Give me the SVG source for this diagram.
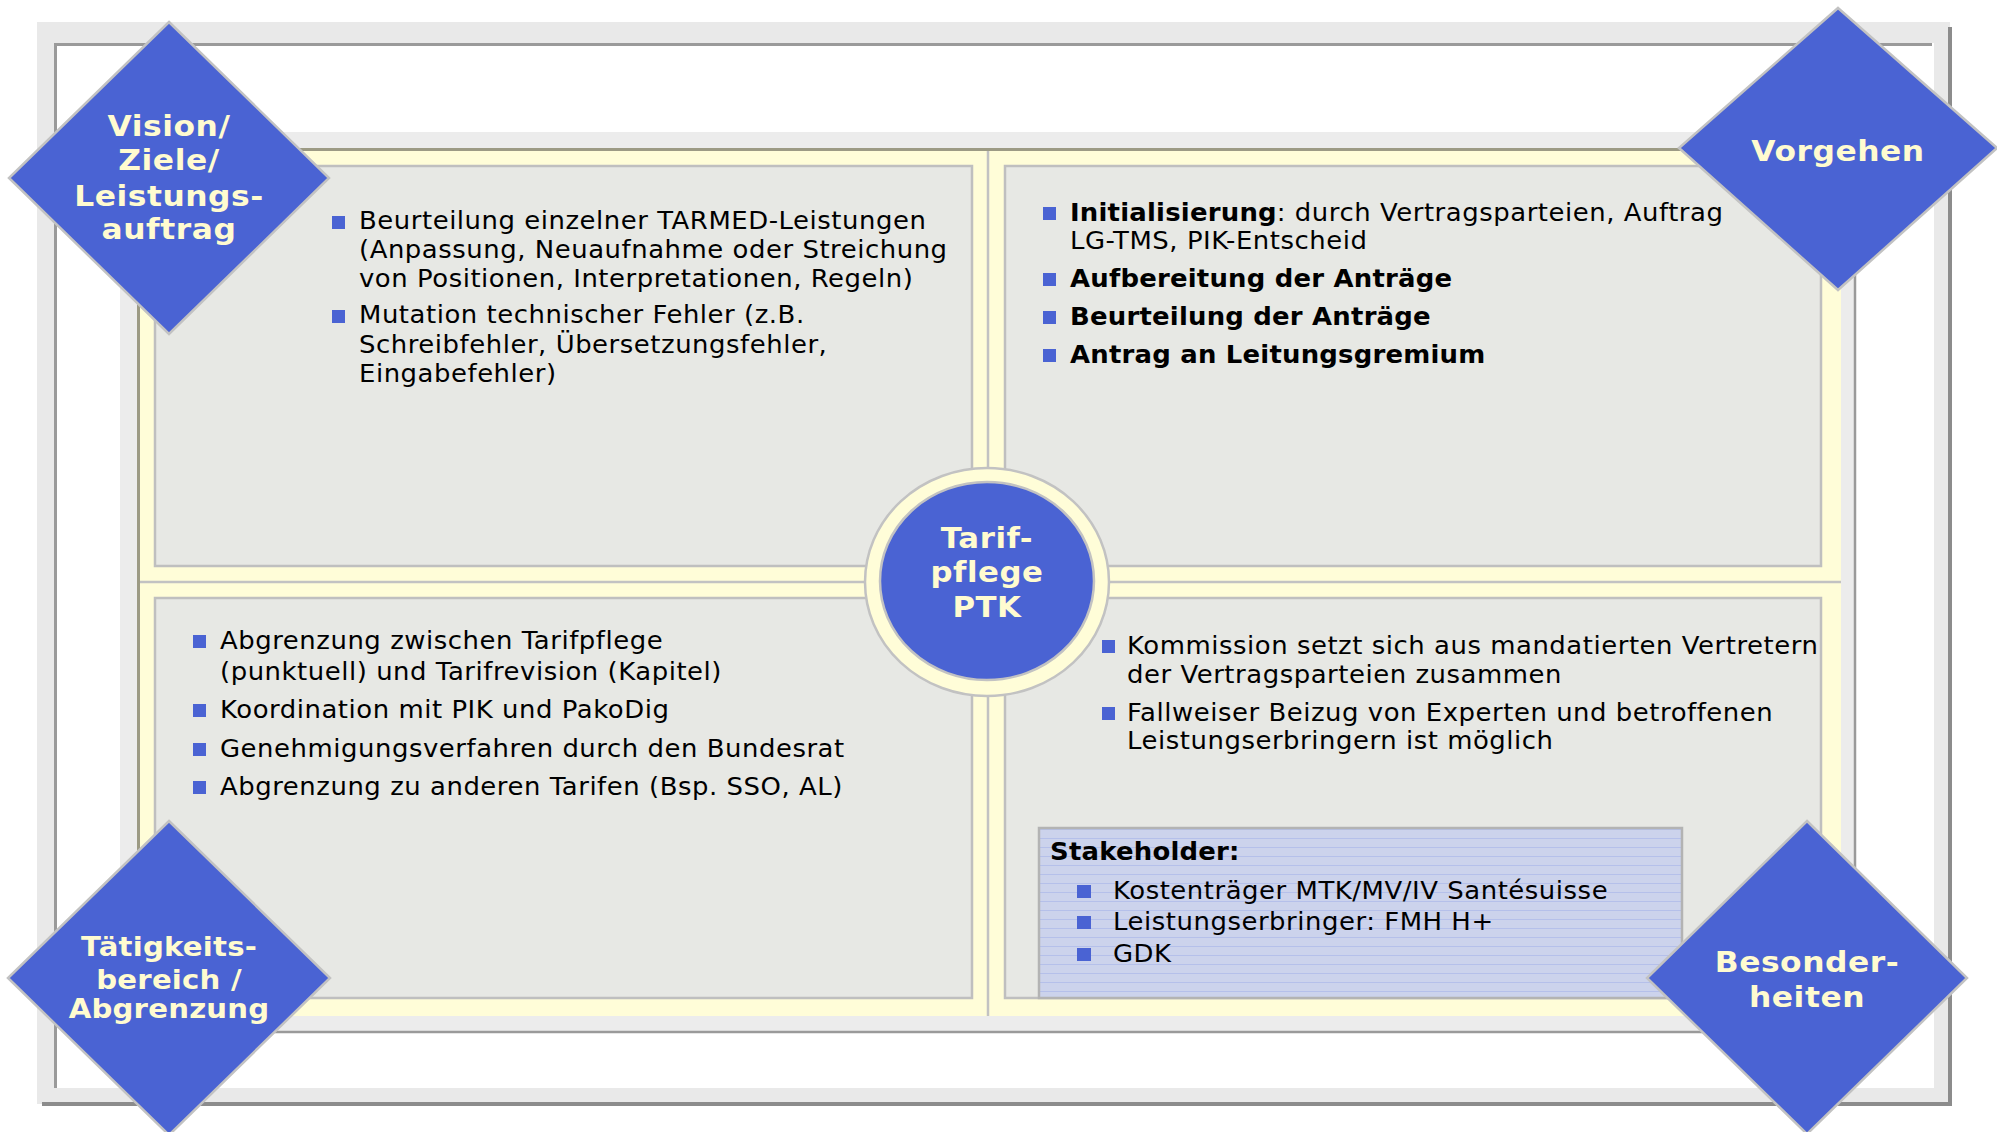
<svg xmlns="http://www.w3.org/2000/svg" width="1997" height="1132" viewBox="0 0 1997 1132">
<defs>
<pattern id="lines" width="12" height="9" patternUnits="userSpaceOnUse" x="0" y="829">
<rect width="12" height="9" fill="#ccd3ec"/>
<line x1="0" y1="0.5" x2="12" y2="0.5" stroke="#b5c0ea" stroke-width="1"/>
</pattern>
</defs>
<style>
.quad{fill:#e7e8e4;stroke:#bfbfbf;stroke-width:2.5}
.dia{fill:#4a63d3;stroke:#c2c2c2;stroke-width:2.5}
.lbl{font-family:"DejaVu Sans",Verdana,sans-serif;font-weight:bold;fill:#fffbd0;text-anchor:middle;letter-spacing:0.5px}
.txt{font-family:"DejaVu Sans",Verdana,sans-serif;font-size:24px;fill:#000;letter-spacing:0.5px}
.b{font-weight:bold;letter-spacing:0.2px}
.bul{fill:#4a63d3}
</style>
<rect x="0" y="0" width="1997" height="1132" fill="#fff"/>
<!-- outer frame -->
<g id="frame">
<rect x="37" y="22" width="1913" height="1082" fill="#e9e9e9"/>
<path d="M1950 27 V1104 H42" fill="none" stroke="#8c8c8c" stroke-width="4"/>
<rect x="54" y="43" width="1880" height="1045" fill="#fff"/>
<path d="M55.5 1088 V44.5 H1932" fill="none" stroke="#9a9a9a" stroke-width="3"/>
<rect x="120" y="132" width="1735" height="900" fill="#ececec"/>
<path d="M1855 134 V1032 H122" fill="none" stroke="#9a9a9a" stroke-width="2.5"/>
<rect x="137" y="148" width="1704" height="868" fill="#fffdd8"/>
<path d="M138.5 1016 V149.5 H1841" fill="none" stroke="#9c9a84" stroke-width="3"/>
</g>
<g id="connectors">
<line x1="988" y1="151" x2="988" y2="1016" stroke="#c2c2c2" stroke-width="2.5"/>
<line x1="140" y1="582" x2="1841" y2="582" stroke="#c2c2c2" stroke-width="2.5"/>
</g>
<!-- quadrants -->
<g id="q-vision">
<rect class="quad" x="155" y="166" width="817" height="400"/>
<rect class="bul" x="332" y="216" width="13" height="13"/>
<rect class="bul" x="332" y="310" width="13" height="13"/>
<g transform="translate(359,0) scale(1.08,1)">
<text class="txt"><tspan x="0" y="229">Beurteilung einzelner TARMED-Leistungen</tspan><tspan x="0" y="258">(Anpassung, Neuaufnahme oder Streichung</tspan><tspan x="0" y="287">von Positionen, Interpretationen, Regeln)</tspan><tspan x="0" y="323">Mutation technischer Fehler (z.B.</tspan><tspan x="0" y="353">Schreibfehler, Übersetzungsfehler,</tspan><tspan x="0" y="382">Eingabefehler)</tspan></text>
</g>
</g>
<g id="q-vorgehen">
<rect class="quad" x="1005" y="166" width="816" height="400"/>
<rect class="bul" x="1043" y="207" width="13" height="13"/>
<rect class="bul" x="1043" y="273" width="13" height="13"/>
<rect class="bul" x="1043" y="311" width="13" height="13"/>
<rect class="bul" x="1043" y="349" width="13" height="13"/>
<g transform="translate(1070,0) scale(1.08,1)">
<text class="txt"><tspan x="0" y="221"><tspan class="b">Initialisierung</tspan>: durch Vertragsparteien, Auftrag</tspan><tspan x="0" y="249">LG-TMS, PIK-Entscheid</tspan><tspan x="0" y="287" class="b">Aufbereitung der Anträge</tspan><tspan x="0" y="325" class="b">Beurteilung der Anträge</tspan><tspan x="0" y="363" class="b">Antrag an Leitungsgremium</tspan></text>
</g>
</g>
<g id="q-taetigkeit">
<rect class="quad" x="155" y="598" width="817" height="400"/>
<rect class="bul" x="193" y="635" width="13" height="13"/>
<rect class="bul" x="193" y="704" width="13" height="13"/>
<rect class="bul" x="193" y="743" width="13" height="13"/>
<rect class="bul" x="193" y="781" width="13" height="13"/>
<g transform="translate(220,0) scale(1.08,1)">
<text class="txt"><tspan x="0" y="649">Abgrenzung zwischen Tarifpflege</tspan><tspan x="0" y="680">(punktuell) und Tarifrevision (Kapitel)</tspan><tspan x="0" y="718">Koordination mit PIK und PakoDig</tspan><tspan x="0" y="757">Genehmigungsverfahren durch den Bundesrat</tspan><tspan x="0" y="795">Abgrenzung zu anderen Tarifen (Bsp. SSO, AL)</tspan></text>
</g>
</g>
<g id="q-besonderheiten">
<rect class="quad" x="1005" y="598" width="816" height="400"/>
<rect class="bul" x="1102" y="640" width="13" height="13"/>
<rect class="bul" x="1102" y="707" width="13" height="13"/>
<g transform="translate(1127,0) scale(1.08,1)">
<text class="txt"><tspan x="0" y="654">Kommission setzt sich aus mandatierten Vertretern</tspan><tspan x="0" y="683">der Vertragsparteien zusammen</tspan><tspan x="0" y="721">Fallweiser Beizug von Experten und betroffenen</tspan><tspan x="0" y="749">Leistungserbringern ist möglich</tspan></text>
</g>
</g>
<g id="stakeholder">
<rect x="1039" y="828" width="643" height="170" fill="url(#lines)" stroke="#b3b3b3" stroke-width="2.5"/>
<rect class="bul" x="1077" y="885" width="14" height="13"/>
<rect class="bul" x="1077" y="916" width="14" height="13"/>
<rect class="bul" x="1077" y="948" width="14" height="13"/>
<g transform="translate(1050,0) scale(1.08,1)">
<text class="txt b" x="0" y="860">Stakeholder:</text>
</g>
<g transform="translate(1113,0) scale(1.08,1)">
<text class="txt"><tspan x="0" y="899">Kostenträger MTK/MV/IV Santésuisse</tspan><tspan x="0" y="930">Leistungserbringer: FMH H+</tspan><tspan x="0" y="962">GDK</tspan></text>
</g>
</g>
<!-- center -->
<g id="center">
<ellipse cx="987" cy="582" rx="122" ry="114" fill="#fffdd8" stroke="#c2c2c2" stroke-width="2.5"/>
<ellipse cx="987" cy="581" rx="107" ry="99" fill="#4a63d3" stroke="#c2c2c2" stroke-width="2.5"/>
<g transform="translate(987,0) scale(1.08,1)">
<text class="lbl" style="font-size:28.5px"><tspan x="0" y="548">Tarif-</tspan><tspan x="0" y="582">pflege</tspan><tspan x="0" y="617">PTK</tspan></text>
</g>
</g>
<!-- diamonds -->
<g id="d-vision">
<polygon class="dia" points="169,22 329,178 169,334 9,178"/>
<g transform="translate(169,0) scale(1.08,1)">
<text class="lbl" style="font-size:29px"><tspan x="0" y="136">Vision/</tspan><tspan x="0" y="170">Ziele/</tspan><tspan x="0" y="206">Leistungs-</tspan><tspan x="0" y="239">auftrag</tspan></text>
</g>
</g>
<g id="d-vorgehen">
<polygon class="dia" points="1838,8 1997,148 1838,290 1679,148"/>
<g transform="translate(1838,0) scale(1.08,1)">
<text class="lbl" style="font-size:29px" x="0" y="161">Vorgehen</text>
</g>
</g>
<g id="d-taetigkeit">
<polygon class="dia" points="169,821 330,978 169,1135 8,978"/>
<g transform="translate(169,0) scale(1.08,1)">
<text class="lbl" style="font-size:27px;letter-spacing:0.2px"><tspan x="0" y="956">Tätigkeits-</tspan><tspan x="0" y="989">bereich /</tspan><tspan x="0" y="1018">Abgrenzung</tspan></text>
</g>
</g>
<g id="d-besonderheiten">
<polygon class="dia" points="1807,821 1967,978 1807,1134 1647,978"/>
<g transform="translate(1807,0) scale(1.08,1)">
<text class="lbl" style="font-size:29px"><tspan x="0" y="972">Besonder-</tspan><tspan x="0" y="1007">heiten</tspan></text>
</g>
</g>
</svg>
